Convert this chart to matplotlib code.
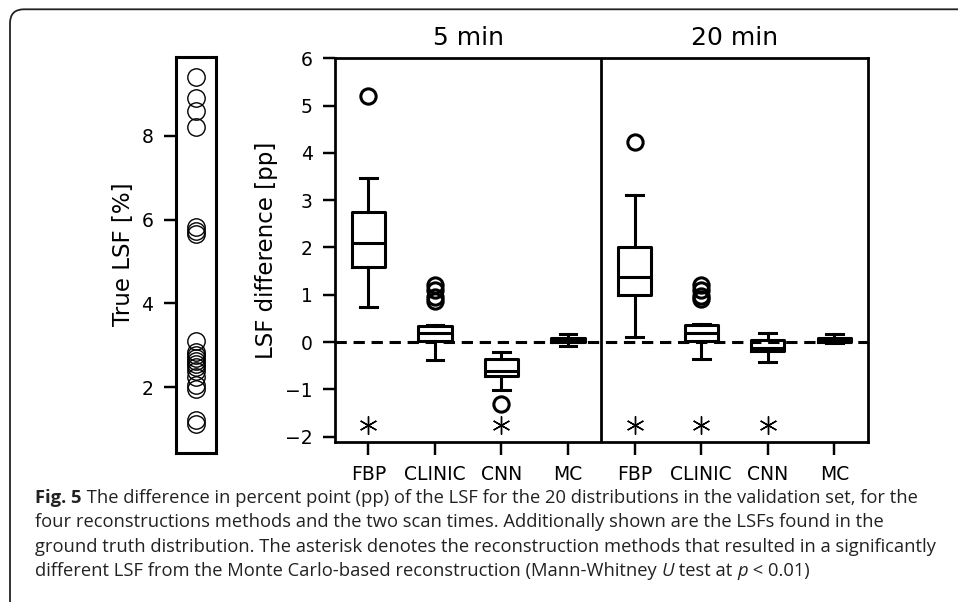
import numpy as np
import matplotlib.pyplot as plt
from matplotlib.patches import FancyBboxPatch

# ground truth LSF values (%) for the 20 validation distributions
true_lsf = [9.4, 8.9, 8.6, 8.2, 5.82, 5.72, 5.65, 3.1, 2.85, 2.78, 2.7,
            2.62, 2.55, 2.48, 2.4, 2.25, 2.05, 1.95, 1.22, 1.12]

methods = ["FBP", "CLINIC", "CNN", "MC"]
scan_times = ["5 min", "20 min"]

# box statistics, order: 5 min (FBP, CLINIC, CNN, MC), 20 min (FBP, CLINIC, CNN, MC)
whislo = [0.75, -0.37, -1.02, -0.08, 0.1, -0.35, -0.42, -0.03]
q1 = [1.58, 0.02, -0.72, 0.0, 1.0, 0.02, -0.2, 0.01]
med = [2.1, 0.2, -0.62, 0.05, 1.38, 0.2, -0.13, 0.05]
q3 = [2.75, 0.33, -0.35, 0.08, 2.0, 0.35, 0.05, 0.08]
whishi = [3.47, 0.37, -0.22, 0.17, 3.1, 0.38, 0.18, 0.17]
fliers = [[5.2], [1.2, 1.1, 0.95, 0.87], [-1.32], [],
          [4.22], [1.2, 1.1, 0.97, 0.9], [], []]

# significant difference from MC (asterisk)
significant = [True, False, True, False, True, True, True, False]
star_y = -1.76

fig = plt.figure(figsize=(9.58, 6.02), dpi=100)

# rounded frame around the figure (open to the right and bottom)
frame = FancyBboxPatch((0.10, -0.6), 20, 5.927 + 0.6,
                       boxstyle="round,pad=0,rounding_size=0.14",
                       transform=fig.dpi_scale_trans, fill=False,
                       edgecolor="#222222", linewidth=1.3, clip_on=False)
fig.add_artist(frame)

lw = 2.2

# left panel: true LSF
ax0 = fig.add_axes([0.1834, 0.248, 0.0421, 0.658])
ax0.plot(np.zeros(len(true_lsf)), true_lsf, "o", mfc="none", mec="k",
         ms=12.5, mew=1.0, ls="none")
ax0.set_xlim(-1, 1)
ax0.set_ylim(0.44, 9.89)
ax0.set_xticks([])
ax0.set_yticks([2, 4, 6, 8])
ax0.tick_params(axis="y", length=9, width=lw * 0.8, pad=7, labelsize=13.5)
for s in ax0.spines.values():
    s.set_linewidth(lw)
ax0.set_ylabel("True LSF [%]", fontsize=16.5, labelpad=5)

# main panel: box plots
ax = fig.add_axes([0.3497, 0.2653, 0.556, 0.638])
stats = []
for i in range(len(med)):
    stats.append({"whislo": whislo[i], "q1": q1[i], "med": med[i], "q3": q3[i],
                  "whishi": whishi[i], "fliers": fliers[i]})
pos = np.arange(1, len(med) + 1)
lp = {"color": "k", "linewidth": lw}
ax.bxp(stats, positions=pos, widths=0.5, showfliers=True,
       boxprops=lp, medianprops=lp, whiskerprops=lp, capprops=lp,
       flierprops={"marker": "o", "mfc": "none", "mec": "k", "ms": 11, "mew": lw})
ax.axhline(0, color="k", ls="--", lw=lw, dashes=(3.7, 2.2), zorder=1)
ax.axvline(4.5, color="k", lw=lw * 0.9)

sx = [p for p, s in zip(pos, significant) if s]
ax.plot(sx, [star_y] * len(sx), ls="none", marker=(6, 2, 0), ms=13,
        mew=1.0, color="k")

ax.set_xlim(0.5, 8.5)
ax.set_ylim(-2.12, 6)
ax.set_yticks(range(-2, 7))
ax.set_xticks(pos)
ax.set_xticklabels(methods * 2)
ax.tick_params(axis="both", length=9, width=lw * 0.8, pad=7, labelsize=13.5)
for s in ax.spines.values():
    s.set_linewidth(lw * 0.9)
ax.set_ylabel("LSF difference [pp]", fontsize=16.5, labelpad=5)

for k, t in enumerate(scan_times):
    ax.annotate(t, xy=(2.5 + 4 * k, 1), xycoords=("data", "axes fraction"),
                xytext=(0, 9.5), textcoords="offset points",
                ha="center", va="baseline", fontsize=18)

# caption
bg = fig.add_axes([0, 0, 1, 1], zorder=-1)
bg.axis("off")
bg.set_xlim(0, 958)
bg.set_ylim(602, 0)
cap = dict(fontsize=13.2, family="Open Sans", color="#222222")
x0 = 35
t = bg.text(x0, 502.7, "Fig. 5", fontweight="bold", va="baseline", **cap)
bg.annotate(" The difference in percent point (pp) of the LSF for the 20 "
            "distributions in the validation set, for the",
            xy=(1, 0), xycoords=t, va="bottom", **cap)
bg.text(x0, 527.2, "four reconstructions methods and the two scan times. "
        "Additionally shown are the LSFs found in the", va="baseline", **cap)
bg.text(x0, 551.7, "ground truth distribution. The asterisk denotes the "
        "reconstruction methods that resulted in a significantly",
        va="baseline", **cap)
parts = [("different LSF from the Monte Carlo-based reconstruction "
          "(Mann-Whitney ", "normal"), ("U", "italic"), (" test at ", "normal"),
         ("p", "italic"), (" < 0.01)", "normal")]
prev = None
for txt, st in parts:
    if prev is None:
        prev = bg.text(x0, 576.2, txt, va="baseline", style=st, **cap)
    else:
        prev = bg.annotate(txt, xy=(1, 0), xycoords=prev, va="bottom",
                           style=st, **cap)

fig.savefig("out.png", dpi=100)
